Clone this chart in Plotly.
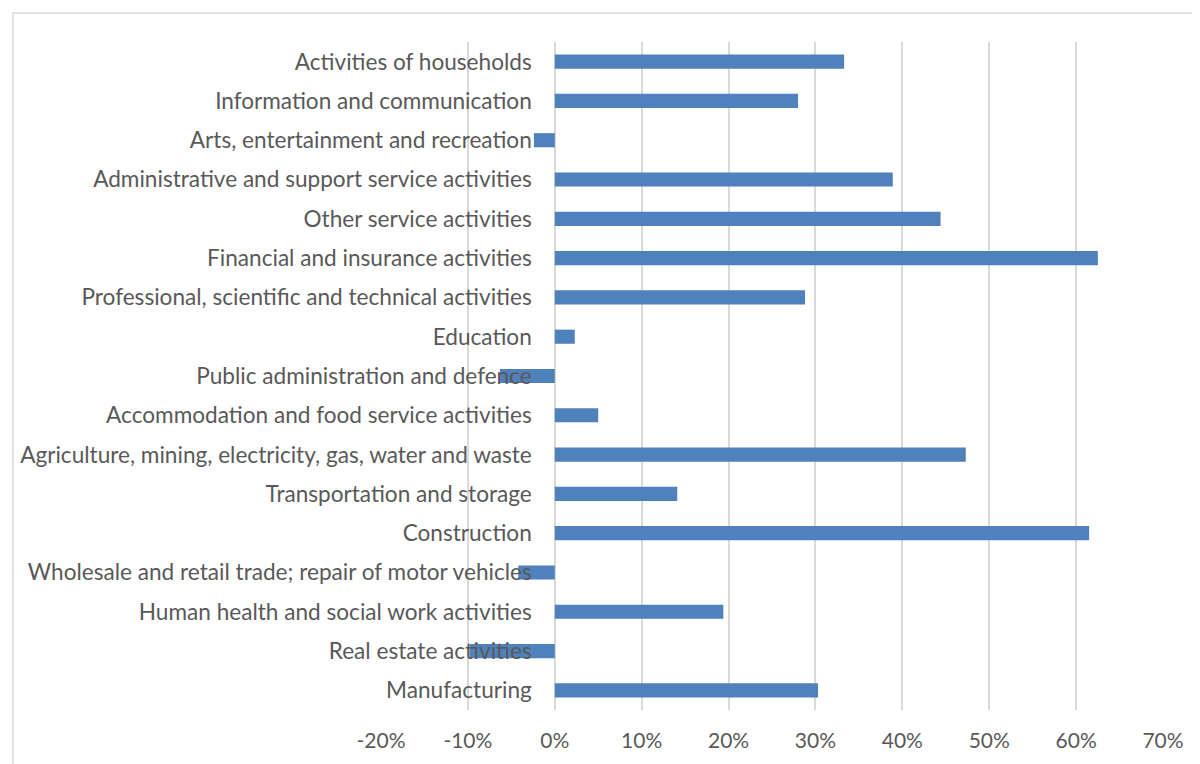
import plotly.graph_objects as go

categories = [
    "Manufacturing",
    "Real estate activities",
    "Human health and social work activities",
    "Wholesale and retail trade; repair of motor vehicles",
    "Construction",
    "Transportation and storage",
    "Agriculture, mining, electricity, gas, water and waste",
    "Accommodation and food service activities",
    "Public administration and defence",
    "Education",
    "Professional, scientific and technical activities",
    "Financial and insurance activities",
    "Other service activities",
    "Administrative and support service activities",
    "Arts, entertainment and recreation",
    "Information and communication",
    "Activities of households",
]
values = [0.303, -0.098, 0.194, -0.042, 0.615, 0.141, 0.473, 0.050, -0.063,
          0.023, 0.288, 0.625, 0.444, 0.389, -0.024, 0.280, 0.333]

tick_vals = [-0.2, -0.1, 0, 0.1, 0.2, 0.3, 0.4, 0.5, 0.6, 0.7]
tick_text = ["-20%", "-10%", "0%", "10%", "20%", "30%", "40%", "50%", "60%", "70%"]

FONT = "Lato"
GRAY = "#595959"
GRID = "#d9d9d9"

fig = go.Figure(go.Bar(
    x=values, y=categories, orientation="h",
    marker=dict(color="#4f81bd", line=dict(width=0)),
))

fig.update_layout(
    width=1200, height=764,
    margin=dict(l=371, r=45, t=34, b=62),
    paper_bgcolor="white", plot_bgcolor="white",
    bargap=0.64,
    showlegend=False,
    font=dict(family=FONT, size=22.6, color=GRAY),
    xaxis=dict(
        range=[-0.2, 0.7], tickvals=tick_vals, ticktext=tick_text,
        showgrid=True, gridcolor=GRID, gridwidth=1.5,
        zeroline=True, zerolinecolor=GRID, zerolinewidth=1.5,
        showline=False, ticks="", ticklabelstandoff=16,
        tickfont=dict(family=FONT, size=21, color=GRAY),
        domain=[0, 1],
    ),
    yaxis=dict(
        type="category", categoryorder="array", categoryarray=categories,
        anchor="free", position=0.2222,
        showgrid=False, zeroline=False, showline=False, ticks="",
        ticklabelstandoff=23,
        tickfont=dict(family=FONT, size=22.6, color=GRAY),
    ),
    shapes=[
        dict(type="line", xref="paper", yref="paper", x0=-0.4707, x1=1.1, y0=1.0434, y1=1.0434,
             line=dict(color=GRID, width=1.5)),
        dict(type="line", xref="paper", yref="paper", x0=-0.4707, x1=-0.4707, y0=1.0434, y1=-0.1,
             line=dict(color=GRID, width=1.5)),
    ],
)

fig.write_html("out.html")
